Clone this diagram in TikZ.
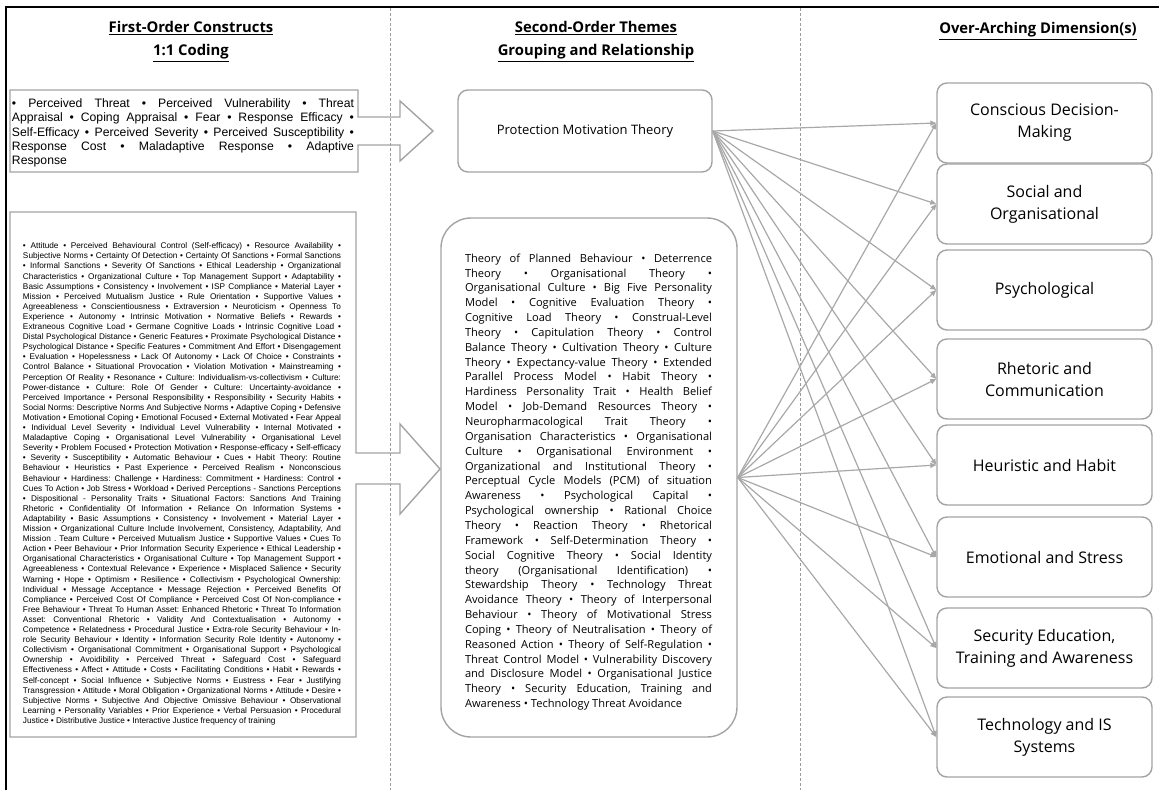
\documentclass[tikz,border=0pt]{standalone}
\usepackage{fontspec}
\setmainfont{Open Sans}
\newfontfamily\arialfont{Liberation Sans}
\usetikzlibrary{arrows.meta}
\definecolor{edgegray}{HTML}{A3A3A3}
\definecolor{linegray}{HTML}{A8A8A8}
\definecolor{dashgray}{HTML}{9C9C9C}
% one fully justified line / one natural-width line
\newcommand\jl[1]{\hbox to\hsize{#1}}
\newcommand\nl[1]{\hbox{#1}}
\begin{document}
\frenchspacing
\begin{tikzpicture}[x=1pt,y=-1pt,
  hdr/.style={font=\fontsize{14.8}{23}\selectfont\bfseries, align=center, inner sep=0},
  edge/.style={draw=edgegray, line width=1.4pt},
  dimbox/.style={edge, rounded corners=10pt, minimum width=215pt, minimum height=80pt,
    align=center, font=\fontsize{16}{22}\selectfont, inner sep=0},
  conn/.style={draw=linegray, line width=1.2pt, -{Triangle[length=6pt,width=5pt]}},
  divider/.style={draw=dashgray, line width=0.9pt, dash pattern=on 3pt off 2pt},
]
\useasboundingbox (0,0) rectangle (1159,790);

% outer frame (top and left edges)
\draw[black, line width=1.5pt] (6,790) -- (6,7) -- (1159,7);

% column dividers
\draw[divider] (390,8) -- (390,790);
\draw[divider] (800,8) -- (800,790);

% column headings
\node[hdr] (h1) at (191,41.5) {\underline{First-Order Constructs}\\\underline{1:1 Coding}};
\node[hdr] (h2) at (596,41.5) {\underline{Second-Order Themes}\\\underline{Grouping and Relationship}};
\node[hdr] (h3) at (1038,31) {\underline{Over-Arching Dimension(s)}};

% first-order construct boxes with their block arrows
\draw[edge] (10,90) -- (358,90) -- (358,117) -- (400,117) -- (400,101) -- (433,131)
  -- (400,161) -- (400,145) -- (358,145) -- (358,172) -- (10,172) -- cycle;
\draw[edge] (10,212) -- (356,212) -- (356,453) -- (400,453) -- (400,424) -- (440,469)
  -- (400,514) -- (400,484) -- (356,484) -- (356,737) -- (10,737) -- cycle;

\node[inner sep=0] (cons1) at (183,133) {\vbox{\hsize=342pt
  \arialfont\fontsize{12.2}{14.25}\selectfont
  \jl{• Perceived Threat • Perceived Vulnerability • Threat}
  \jl{Appraisal • Coping Appraisal • Fear • Response Efficacy •}
  \jl{Self-Efficacy • Perceived Severity • Perceived Susceptibility •}
  \jl{Response Cost • Maladaptive Response • Adaptive}
  \nl{Response}}};

\node[inner sep=0] (cons2) at (182,484) {\vbox{\hsize=318pt
  \arialfont\fontsize{8.25}{10.1}\selectfont
  \jl{• Attitude • Perceived Behavioural Control (Self-efficacy) • Resource Availability •}
  \jl{Subjective Norms • Certainty Of Detection • Certainty Of Sanctions • Formal Sanctions}
  \jl{• Informal Sanctions • Severity Of Sanctions • Ethical Leadership • Organizational}
  \jl{Characteristics • Organizational Culture • Top Management Support • Adaptability •}
  \jl{Basic Assumptions • Consistency • Involvement • ISP Compliance • Material Layer •}
  \jl{Mission • Perceived Mutualism Justice • Rule Orientation • Supportive Values •}
  \jl{Agreeableness • Conscientiousness • Extraversion • Neuroticism • Openness To}
  \jl{Experience • Autonomy • Intrinsic Motivation • Normative Beliefs • Rewards •}
  \jl{Extraneous Cognitive Load • Germane Cognitive Loads • Intrinsic Cognitive Load •}
  \jl{Distal Psychological Distance • Generic Features • Proximate Psychological Distance •}
  \jl{Psychological Distance • Specific Features • Commitment And Effort • Disengagement}
  \jl{• Evaluation • Hopelessness • Lack Of Autonomy • Lack Of Choice • Constraints •}
  \jl{Control Balance • Situational Provocation • Violation Motivation • Mainstreaming •}
  \jl{Perception Of Reality • Resonance • Culture: Individualism-vs-collectivism • Culture:}
  \jl{Power-distance • Culture: Role Of Gender • Culture: Uncertainty-avoidance •}
  \jl{Perceived Importance • Personal Responsibility • Responsibility • Security Habits •}
  \jl{Social Norms: Descriptive Norms And Subjective Norms • Adaptive Coping • Defensive}
  \jl{Motivation • Emotional Coping • Emotional Focused • External Motivated • Fear Appeal}
  \jl{• Individual Level Severity • Individual Level Vulnerability • Internal Motivated •}
  \jl{Maladaptive Coping • Organisational Level Vulnerability • Organisational Level}
  \jl{Severity • Problem Focused • Protection Motivation • Response-efficacy • Self-efficacy}
  \jl{• Severity • Susceptibility • Automatic Behaviour • Cues • Habit Theory: Routine}
  \jl{Behaviour • Heuristics • Past Experience • Perceived Realism • Nonconscious}
  \jl{Behaviour • Hardiness: Challenge • Hardiness: Commitment • Hardiness: Control •}
  \jl{Cues To Action • Job Stress • Workload • Derived Perceptions - Sanctions Perceptions}
  \jl{• Dispositional - Personality Traits • Situational Factors: Sanctions And Training}
  \jl{Rhetoric • Confidentiality Of Information • Reliance On Information Systems •}
  \jl{Adaptability • Basic Assumptions • Consistency • Involvement • Material Layer •}
  \jl{Mission • Organizational Culture Include Involvement, Consistency, Adaptability, And}
  \jl{Mission . Team Culture • Perceived Mutualism Justice • Supportive Values • Cues To}
  \jl{Action • Peer Behaviour • Prior Information Security Experience • Ethical Leadership •}
  \jl{Organisational Characteristics • Organisational Culture • Top Management Support •}
  \jl{Agreeableness • Contextual Relevance • Experience • Misplaced Salience • Security}
  \jl{Warning • Hope • Optimism • Resilience • Collectivism • Psychological Ownership:}
  \jl{Individual • Message Acceptance • Message Rejection • Perceived Benefits Of}
  \jl{Compliance • Perceived Cost Of Compliance • Perceived Cost Of Non-compliance •}
  \jl{Free Behaviour • Threat To Human Asset: Enhanced Rhetoric • Threat To Information}
  \jl{Asset: Conventional Rhetoric • Validity And Contextualisation • Autonomy •}
  \jl{Competence • Relatedness • Procedural Justice • Extra-role Security Behaviour • In-}
  \jl{role Security Behaviour • Identity • Information Security Role Identity • Autonomy •}
  \jl{Collectivism • Organisational Commitment • Organisational Support • Psychological}
  \jl{Ownership • Avoidibility • Perceived Threat • Safeguard Cost • Safeguard}
  \jl{Effectiveness • Affect • Attitude • Costs • Facilitating Conditions • Habit • Rewards •}
  \jl{Self-concept • Social Influence • Subjective Norms • Eustress • Fear • Justifying}
  \jl{Transgression • Attitude • Moral Obligation • Organizational Norms • Attitude • Desire •}
  \jl{Subjective Norms • Subjective And Objective Omissive Behaviour • Observational}
  \jl{Learning • Personality Variables • Prior Experience • Verbal Persuasion • Procedural}
  \nl{Justice • Distributive Justice • Interactive Justice frequency of training}}};

% second-order themes
\node[edge, rounded corners=10pt, minimum width=254pt, minimum height=82pt, inner sep=0,
  font=\fontsize{13}{15}\selectfont] (pmt) at (585,131) {Protection Motivation Theory};

\node[edge, rounded corners=30pt, minimum width=296pt, minimum height=519pt, inner sep=0]
  (mid) at (589,477.5) {};
\node[inner sep=0] (midtext) at (588.5,482) {\vbox{\hsize=247pt
  \fontsize{11.1}{14.85}\selectfont
  \jl{Theory of Planned Behaviour • Deterrence}
  \jl{Theory • Organisational Theory •}
  \jl{Organisational Culture • Big Five Personality}
  \jl{Model • Cognitive Evaluation Theory •}
  \jl{Cognitive Load Theory • Construal-Level}
  \jl{Theory • Capitulation Theory • Control}
  \jl{Balance Theory • Cultivation Theory • Culture}
  \jl{Theory • Expectancy-value Theory • Extended}
  \jl{Parallel Process Model • Habit Theory •}
  \jl{Hardiness Personality Trait • Health Belief}
  \jl{Model • Job-Demand Resources Theory •}
  \jl{Neuropharmacological Trait Theory •}
  \jl{Organisation Characteristics • Organisational}
  \jl{Culture • Organisational Environment •}
  \jl{Organizational and Institutional Theory •}
  \jl{Perceptual Cycle Models (PCM) of situation}
  \jl{Awareness • Psychological Capital •}
  \jl{Psychological ownership • Rational Choice}
  \jl{Theory • Reaction Theory • Rhetorical}
  \jl{Framework • Self-Determination Theory •}
  \jl{Social Cognitive Theory • Social Identity}
  \jl{theory (Organisational Identification) •}
  \jl{Stewardship Theory • Technology Threat}
  \jl{Avoidance Theory • Theory of Interpersonal}
  \jl{Behaviour • Theory of Motivational Stress}
  \jl{Coping • Theory of Neutralisation • Theory of}
  \jl{Reasoned Action • Theory of Self-Regulation •}
  \jl{Threat Control Model • Vulnerability Discovery}
  \jl{and Disclosure Model • Organisational Justice}
  \jl{Theory • Security Education, Training and}
  \nl{Awareness • Technology Threat Avoidance}}};

% over-arching dimensions
\node[dimbox] (d1) at (1044.5,123) {Conscious Decision-\\Making};
\node[dimbox] (d2) at (1044.5,204) {Social and\\Organisational};
\node[dimbox] (d3) at (1044.5,290) {Psychological};
\node[dimbox] (d4) at (1044.5,379) {Rhetoric and\\Communication};
\node[dimbox] (d5) at (1044.5,465) {Heuristic and Habit};
\node[dimbox] (d6) at (1044.5,557) {Emotional and Stress};
\node[dimbox] (d7) at (1044.5,648) {Security Education,\\Training and Awareness};
\node[dimbox] (d8) at (1044.5,737) {Technology and IS\\Systems};

% theme-to-dimension links
\foreach \d in {d1,d2,d3,d4,d5,d6,d7,d8} {
  \draw[conn] (pmt.east) -- (\d.west);
  \draw[conn] (mid.east) -- (\d.west);
}
\end{tikzpicture}
\end{document}
